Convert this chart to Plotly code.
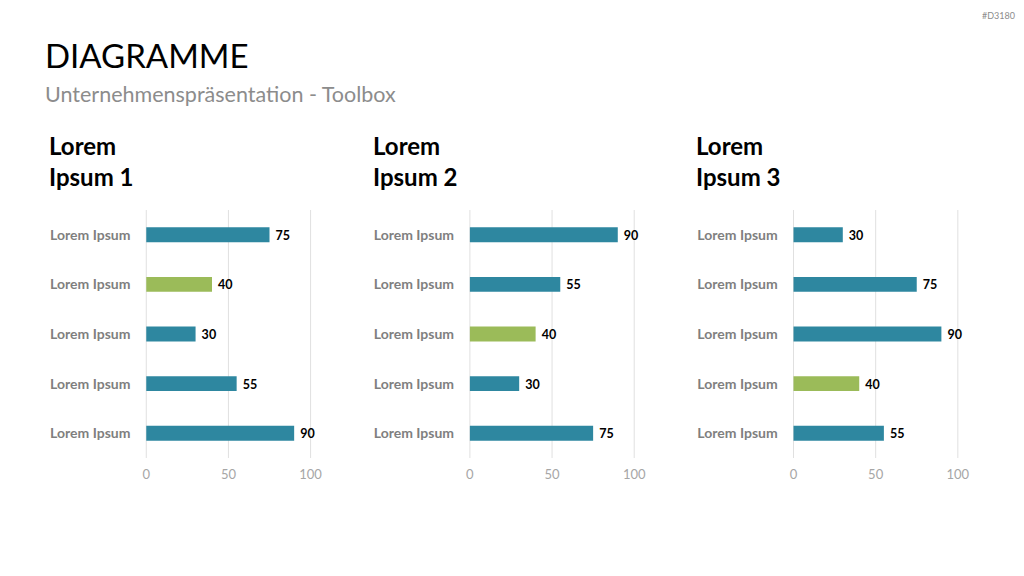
import plotly.graph_objects as go

categories = ["Lorem Ipsum"] * 5
panel_titles = ["Lorem<br>Ipsum 1", "Lorem<br>Ipsum 2", "Lorem<br>Ipsum 3"]
values_1 = [75, 40, 30, 55, 90]
values_2 = [90, 55, 40, 30, 75]
values_3 = [30, 75, 90, 40, 55]
highlight = [1, 2, 3]  # index of green bar per panel
x_ticks = [0, 50, 100]

TEAL = "#2E87A0"
GREEN = "#9BBB59"
GRID = "#E0E0E0"
FONT = "Lato"

W, H = 1024, 576


def px(x):
    # horizontal pixel -> paper fraction (compensates rendering width)
    return (x - 3) / 0.9864 / W


panel_x0 = [147, 470, 793]
panel_w = 164
pad = 2.0  # extra pixels each side so edge gridlines are drawn
y_top, y_bot = 210, 458

fig = go.Figure()
all_vals = [values_1, values_2, values_3]
for i, vals in enumerate(all_vals):
    n = i + 1
    xa = "x" if n == 1 else f"x{n}"
    ya = "y" if n == 1 else f"y{n}"
    colors = [GREEN if j == highlight[i] else TEAL for j in range(len(vals))]
    fig.add_trace(go.Bar(
        x=vals, y=list(range(len(vals))), orientation="h",
        marker=dict(color=colors, line=dict(width=0)),
        width=0.3,
        text=[" " + str(v) for v in vals], textposition="outside",
        textfont=dict(family=FONT, size=16, color="#000000", weight="bold"),
        cliponaxis=False, xaxis=xa, yaxis=ya, showlegend=False,
        hoverinfo="skip",
    ))
    x0 = panel_x0[i]
    xkey = "xaxis" if n == 1 else f"xaxis{n}"
    ykey = "yaxis" if n == 1 else f"yaxis{n}"
    dpad = pad * 100 / panel_w
    fig.update_layout(**{
        xkey: dict(domain=[px(x0 - pad), px(x0 + panel_w + pad)], range=[-dpad, 100 + dpad],
                   anchor=ya, tickvals=x_ticks, showgrid=False, zeroline=False,
                   showline=False, tickfont=dict(family=FONT, size=13, color="#A6A6A6"),
                   ticks="outside", ticklen=4, tickcolor="rgba(0,0,0,0)", fixedrange=True),
        ykey: dict(domain=[1 - y_bot / H, 1 - y_top / H], range=[4.5, -0.5],
                   anchor=xa, tickvals=list(range(5)), ticktext=categories,
                   showgrid=False, zeroline=False, showline=False,
                   tickfont=dict(family=FONT, size=14, color="#7F7F7F", weight="bold"),
                   ticks="outside", ticklen=10, tickcolor="rgba(0,0,0,0)", fixedrange=True),
    })
    for t in x_ticks:
        fig.add_shape(type="line", xref=xa, yref=f"{ya} domain", x0=t, x1=t, y0=0, y1=1,
                      line=dict(color=GRID, width=1), layer="below")
    fig.add_annotation(xref="paper", yref="paper", x=px(x0 - 99), y=1 - 129 / H,
                       xanchor="left", yanchor="top", align="left", showarrow=False,
                       text=f"<b>{panel_titles[i]}</b>",
                       font=dict(family=FONT, size=24, color="#000000"))

fig.add_annotation(xref="paper", yref="paper", x=px(44), y=1 - 33 / H, xanchor="left",
                   yanchor="top", showarrow=False, text="DIAGRAMME",
                   font=dict(family=FONT, size=33, color="#000000"))
fig.add_annotation(xref="paper", yref="paper", x=px(44), y=1 - 79 / H, xanchor="left",
                   yanchor="top", showarrow=False, text="Unternehmenspräsentation - Toolbox",
                   font=dict(family=FONT, size=21.5, color="#8C8C8C"))
fig.add_annotation(xref="paper", yref="paper", x=px(1016), y=1 - 8 / H, xanchor="right",
                   yanchor="top", showarrow=False, text="#D3180",
                   font=dict(family=FONT, size=9, color="#8C8C8C"))

fig.update_layout(width=W, height=H, margin=dict(l=0, r=0, t=0, b=0),
                  paper_bgcolor="white", plot_bgcolor="white", bargap=0.7)
fig.write_html("out.html")
